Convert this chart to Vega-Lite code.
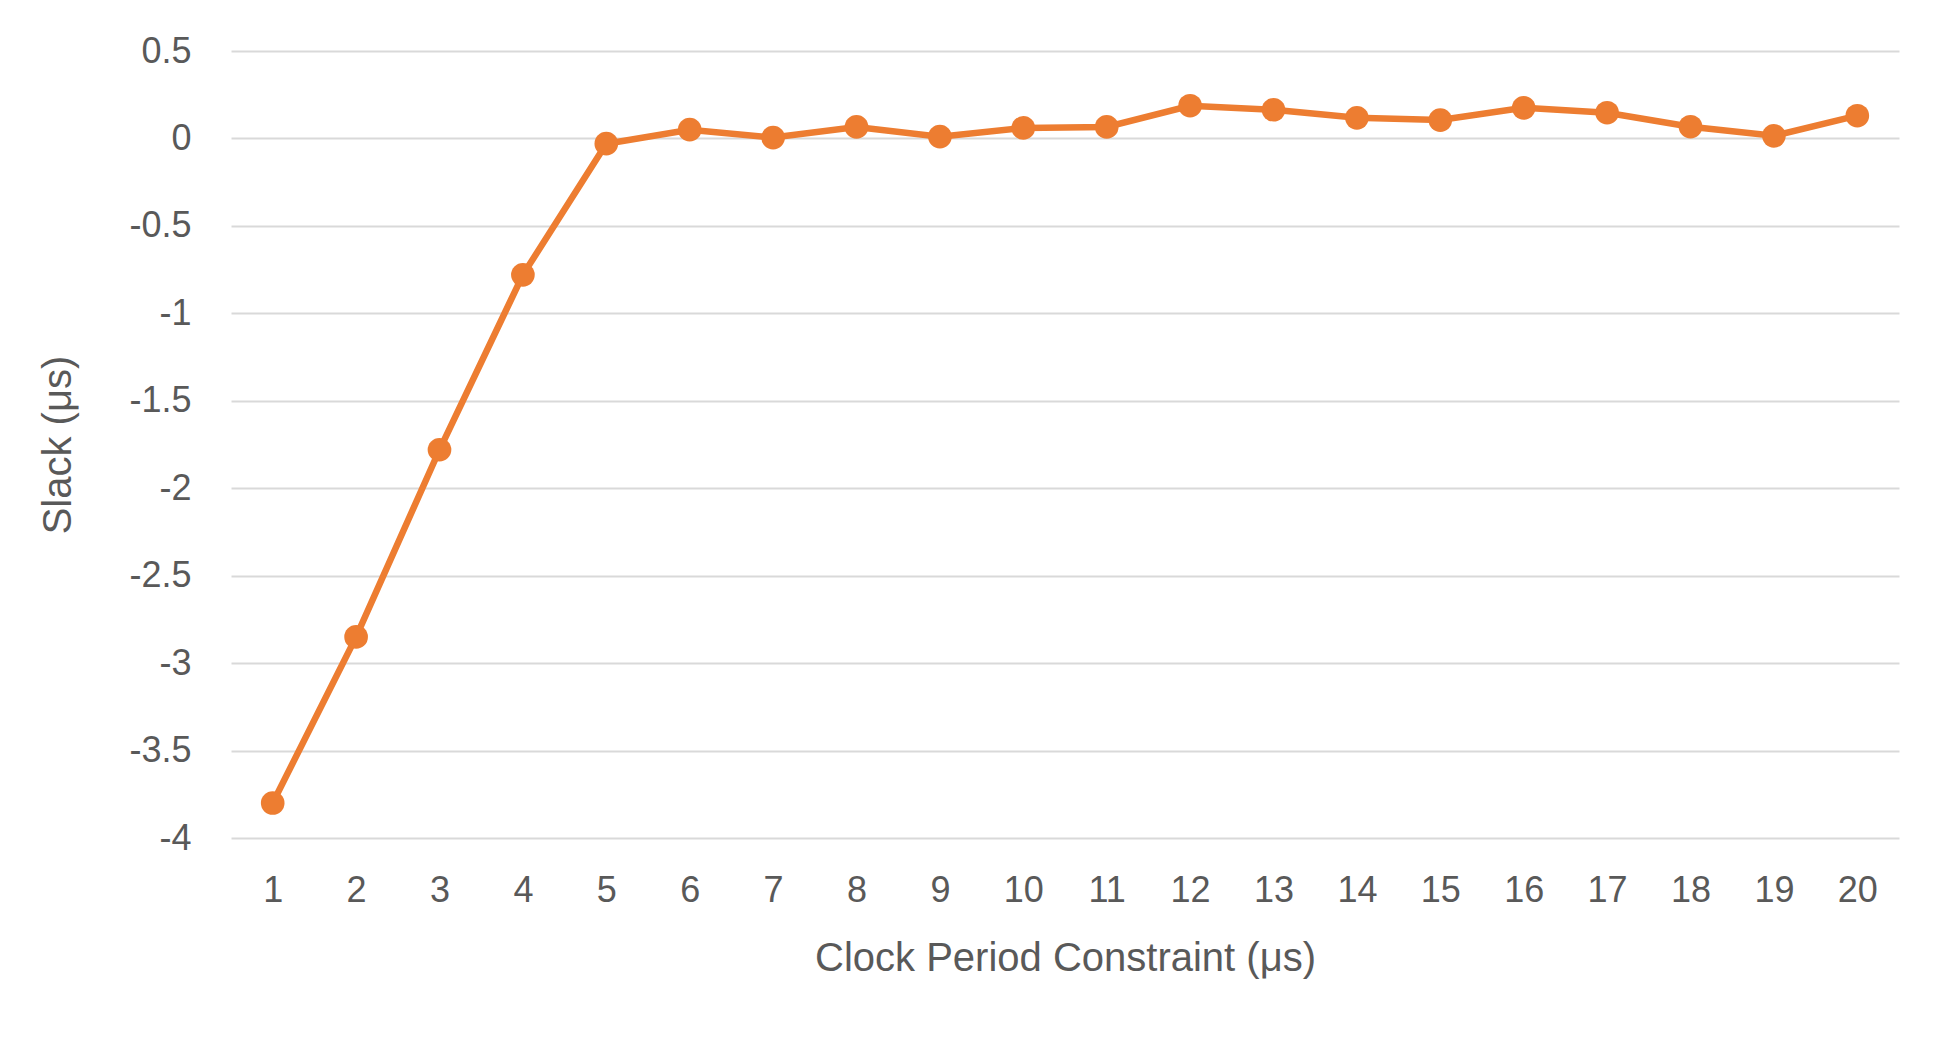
{
  "$schema": "https://vega.github.io/schema/vega-lite/v6.json",
  "width": 1668,
  "height": 787,
  "autosize": {"type": "none"},
  "padding": {"left": 231, "top": 51, "right": 52, "bottom": 204},
  "background": "white",
  "config": {
    "view": {"stroke": null},
    "font": "Liberation Sans",
    "axis": {
      "labelFont": "Liberation Sans",
      "titleFont": "Liberation Sans",
      "labelColor": "#595959",
      "titleColor": "#595959",
      "labelFontSize": 36,
      "titleFontSize": 40,
      "titleFontWeight": "normal",
      "ticks": false,
      "domain": false
    }
  },
  "data": {
    "values": [
      {"period": 1, "slack": -3.8},
      {"period": 2, "slack": -2.85},
      {"period": 3, "slack": -1.78},
      {"period": 4, "slack": -0.78},
      {"period": 5, "slack": -0.03},
      {"period": 6, "slack": 0.05},
      {"period": 7, "slack": 0.005},
      {"period": 8, "slack": 0.066},
      {"period": 9, "slack": 0.01},
      {"period": 10, "slack": 0.06},
      {"period": 11, "slack": 0.066},
      {"period": 12, "slack": 0.187},
      {"period": 13, "slack": 0.164},
      {"period": 14, "slack": 0.118},
      {"period": 15, "slack": 0.105},
      {"period": 16, "slack": 0.175},
      {"period": 17, "slack": 0.147},
      {"period": 18, "slack": 0.067},
      {"period": 19, "slack": 0.015},
      {"period": 20, "slack": 0.13}
    ]
  },
  "encoding": {
    "x": {
      "field": "period",
      "type": "ordinal",
      "scale": {"type": "point", "padding": 0.5},
      "axis": {
        "title": "Clock Period Constraint (μs)",
        "labelAngle": 0,
        "labelPadding": 35,
        "titlePadding": 30,
        "grid": false
      }
    },
    "y": {
      "field": "slack",
      "type": "quantitative",
      "scale": {"domain": [-4, 0.5], "nice": false, "zero": false},
      "axis": {
        "title": "Slack (μs)",
        "values": [-4, -3.5, -3, -2.5, -2, -1.5, -1, -0.5, 0, 0.5],
        "labelExpr": "'' + datum.value",
        "labelPadding": 40,
        "titlePadding": 50,
        "grid": true,
        "gridColor": "#d9d9d9",
        "gridWidth": 2
      }
    }
  },
  "layer": [
    {"mark": {"type": "line", "color": "#ED7D31", "strokeWidth": 6.5}},
    {"mark": {"type": "point", "filled": true, "color": "#ED7D31", "size": 560, "opacity": 1}}
  ]
}
